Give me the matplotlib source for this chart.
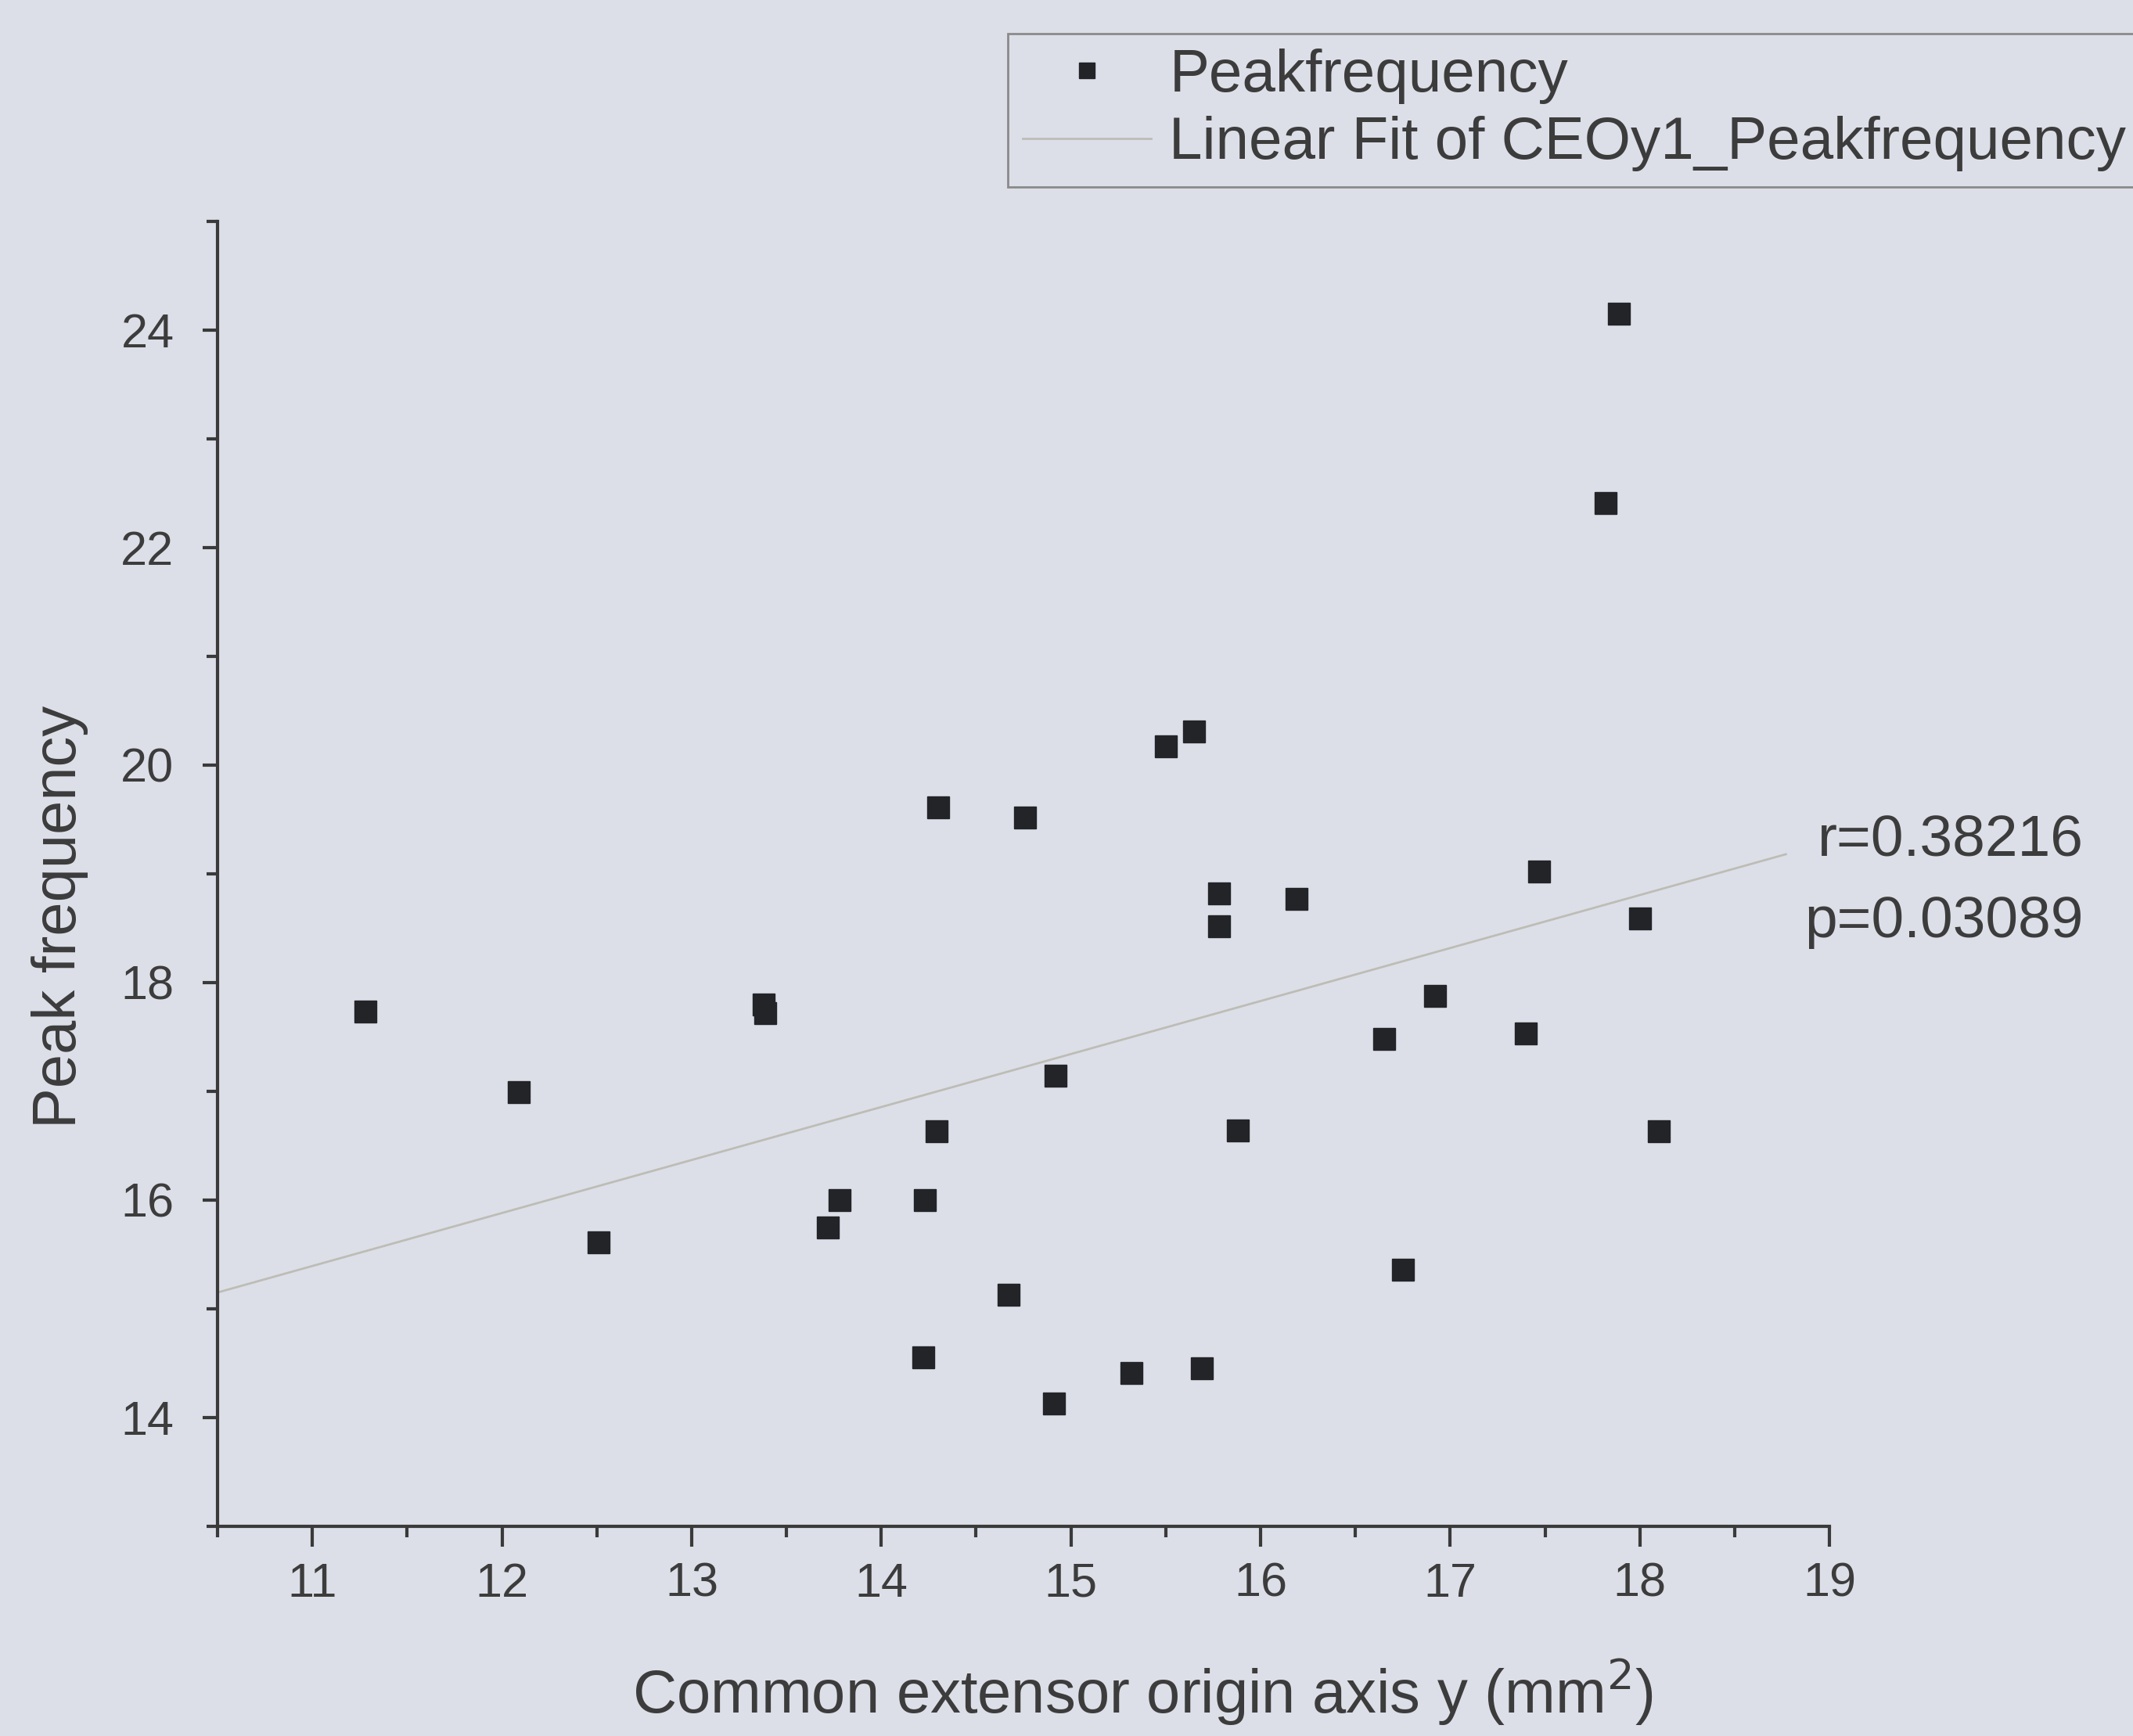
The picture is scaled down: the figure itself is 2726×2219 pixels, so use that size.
import matplotlib
matplotlib.use("Agg")
import matplotlib.pyplot as plt
import numpy as np

# Data
area_y = [11.28, 12.09, 12.51, 13.38, 13.39, 13.72, 13.78, 14.23, 14.22, 14.30,
          14.29, 14.67, 14.76, 14.92, 14.91, 15.32, 15.50, 15.65, 15.69, 15.78,
          15.78, 15.88, 16.19, 16.65, 16.75, 16.92, 17.40, 17.47, 17.82, 17.89,
          18.00, 18.10]
peak_freq = [17.73, 16.99, 15.61, 17.80, 17.72, 15.75, 16.00, 16.00, 14.55, 19.61,
             16.63, 15.13, 19.52, 17.14, 14.13, 14.41, 20.17, 20.31, 14.45, 18.82,
             18.52, 16.64, 18.77, 17.48, 15.36, 17.88, 17.53, 19.02, 22.41, 24.15,
             18.59, 16.63]
fit_x = [10.5, 18.77]
fit_y = [15.15, 19.18]
r_text = "r=0.38216"
p_text = "p=0.03089"

bg = "#dcdfe8"
txt = "#3c3c3c"
plt.rcParams['font.family'] = ['Liberation Sans', 'DejaVu Sans']

fig = plt.figure(figsize=(27.26, 22.19), dpi=100, facecolor=bg)
ax = fig.add_axes([0.102, 0.1208, 0.7557, 0.7517])
ax.set_facecolor(bg)

pts, = ax.plot(area_y, peak_freq, 's', color="#222428", markersize=20, label="Peakfrequency",
               zorder=3)
fit, = ax.plot(fit_x, fit_y, '-', color="#bdbdb6", lw=2, label="Linear Fit of CEOy1_Peakfrequency",
               zorder=2)

ax.set_xlim(10.5, 19)
ax.set_ylim(13, 25)
ax.set_xticks(range(11, 20))
ax.set_xticks(np.arange(10.5, 19.01, 0.5), minor=True)
ax.set_yticks(range(14, 25, 2))
ax.set_yticks(range(13, 26, 2), minor=True)

for s in ['top', 'right']:
    ax.spines[s].set_visible(False)
for s in ['left', 'bottom']:
    ax.spines[s].set_linewidth(3)
    ax.spines[s].set_color("#3a3a3a")

ax.tick_params(axis='x', which='major', length=19, width=3, color="#3a3a3a",
               labelsize=44, labelcolor=txt, pad=14)
ax.tick_params(axis='x', which='minor', length=10, width=3, color="#3a3a3a")
ax.tick_params(axis='y', which='major', length=14, width=3, color="#3a3a3a",
               labelsize=44, labelcolor=txt, pad=26)
ax.tick_params(axis='y', which='minor', length=10, width=3, color="#3a3a3a")

ax.set_xlabel("Common extensor origin axis y (mm$^2$)", fontsize=56, color=txt)
ax.xaxis.set_label_coords(0.574, -0.1)
ax.set_ylabel("Peak frequency", fontsize=56, color=txt)
ax.yaxis.set_label_coords(-0.080, 0.467)

ax.text(20.34, 19.31, r_text, fontsize=54, color=txt, ha='right', va='center', clip_on=False)
ax.text(20.34, 18.56, p_text, fontsize=54, color=txt, ha='right', va='center', clip_on=False)

leg = fig.legend(handles=[pts, fit], loc='upper left', bbox_to_anchor=(0.4725, 0.9806),
                 fontsize=55, frameon=True, fancybox=False, edgecolor="#8a8a8a",
                 facecolor=bg, framealpha=1, handlelength=2.15, handletextpad=0.3,
                 borderpad=0.25, labelspacing=0.2, markerscale=0.7, borderaxespad=0)
leg.get_frame().set_linewidth(2)
for t in leg.get_texts():
    t.set_color(txt)

fig.savefig("out.png", dpi=100, facecolor=bg)
